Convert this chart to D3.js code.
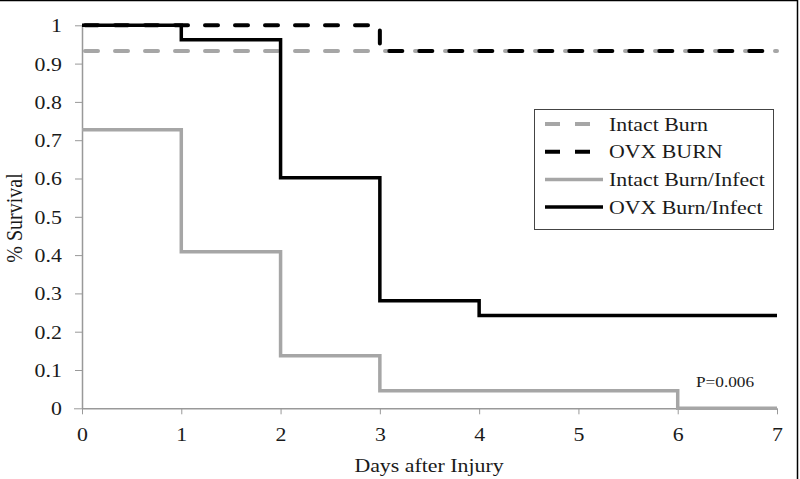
<!DOCTYPE html>
<html><head><meta charset="utf-8">
<script src="https://cdn.jsdelivr.net/npm/d3@7"></script>
<style>body{margin:0;background:#fff}svg{display:block}text{font-family:"Liberation Serif","Times New Roman",serif;fill:#1a1a1a}</style>
</head><body><svg id="c" width="800" height="479"></svg>
<script>
const seriesNames = ["Intact Burn","OVX BURN","Intact Burn/Infect","OVX Burn/Infect"];
const intactBurnDays = [0,7];
const intactBurnVals = [0.933,0.933];
const ovxBurnDays = [0,3,7];
const ovxBurnVals = [1,0.933,0.933];
const intactInfDays = [0,1,2,3,6,7];
const intactInfVals = [0.727,0.409,0.137,0.046,0,0];
const ovxInfDays = [0,1,2,3,4,7];
const ovxInfVals = [1,0.962,0.602,0.281,0.242,0.242];
const xTicks = [0,1,2,3,4,5,6,7];
const yTicks = [0,0.1,0.2,0.3,0.4,0.5,0.6,0.7,0.8,0.9,1];
const pText = "P=0.006";

const gray = "#a6a6a6", black = "#000";
const SX = 1.15;
const svg = d3.select("#c");
const x = d3.scaleLinear().domain([0,7]).range([82,777]);
const y = d3.scaleLinear().domain([0,1]).range([408.3,25.3]);

// frame
svg.append("line").attr("x1",0).attr("x2",797.5).attr("y1",0.5).attr("y2",0.5).attr("stroke","#000").attr("stroke-width",1.5);
svg.append("line").attr("x1",797.5).attr("x2",797.5).attr("y1",0).attr("y2",479).attr("stroke","#000").attr("stroke-width",1.5);

// axes
const xa = svg.append("g").attr("transform",`translate(0,${y(0)})`)
  .call(d3.axisBottom(x).tickValues(xTicks).tickFormat(d3.format("d")).tickSizeInner(6).tickSizeOuter(0).tickPadding(10));
const ya = svg.append("g").attr("transform",`translate(${x(0)},0)`)
  .call(d3.axisLeft(y).tickValues(yTicks).tickFormat(d=>d===0||d===1?String(d):d.toFixed(1)).tickSizeInner(7).tickSizeOuter(0).tickPadding(10.5));
[xa,ya].forEach(g=>{
  g.select(".domain").attr("stroke","#999").attr("stroke-width",1.5);
  g.selectAll(".tick line").attr("stroke","#999").attr("stroke-width",1);
  g.selectAll(".tick text").style("font-family","'Liberation Serif',serif").style("font-size","19px").attr("fill","#1a1a1a")
    .attr("transform",`scale(${SX},1)`);
});
xa.select(".domain").attr("d",`M${x(0)},0.5H${x(7)}`);
ya.selectAll(".tick").filter(d=>d===0).select("line").attr("x2",-8);
ya.selectAll(".tick text").attr("dy","0.34em");
xa.selectAll(".tick text").attr("dy","0.9em");

const line = d3.line().x(d=>x(d[0])).y(d=>y(d[1])).curve(d3.curveStepAfter);
function draw(days, vals, color, w, dash){
  svg.append("path").datum(days.map((d,i)=>[d,vals[i]]))
    .attr("d",line).attr("fill","none").attr("stroke",color).attr("stroke-width",w)
    .attr("stroke-dasharray",dash||null).attr("stroke-dashoffset",dash?-3:null)
    .attr("stroke-linecap",dash?"round":"butt").attr("stroke-linejoin","miter");
}
draw(intactBurnDays,intactBurnVals,gray,4,"13,17");
draw(intactInfDays,intactInfVals,gray,3.5);
draw(ovxInfDays,ovxInfVals,black,3.5);
draw(ovxBurnDays,ovxBurnVals,black,4,"13,17");

// legend
const lg = svg.append("g");
lg.append("rect").attr("x",534.5).attr("y",109.5).attr("width",239).attr("height",120).attr("fill","#fff").attr("stroke","#444").attr("stroke-width",1);
const styles = [[gray,"15,15"],[black,"15,15"],[gray,null],[black,null]];
seriesNames.forEach((n,i)=>{
  const yy = 124 + i*27.7;
  lg.append("line").attr("x1",545).attr("x2",603).attr("y1",yy).attr("y2",yy)
    .attr("stroke",styles[i][0]).attr("stroke-width",i<2?4:3.5).attr("stroke-dasharray",styles[i][1])
    .attr("stroke-linecap","butt");
  lg.append("text").attr("transform",`translate(609,${yy+6.5}) scale(${SX},1)`).style("font-size","19px").text(n);
});

svg.append("text").attr("transform",`translate(696,387) scale(${SX},1)`).style("font-size","15px").text(pText);
svg.append("text").attr("transform",`translate(429,472) scale(${SX},1)`).attr("text-anchor","middle").style("font-size","19px").text("Days after Injury");
svg.append("text").attr("transform","translate(22,218) rotate(-90) scale(1,1.2)").attr("text-anchor","middle").style("font-size","20px").text("% Survival");
</script></body></html>
